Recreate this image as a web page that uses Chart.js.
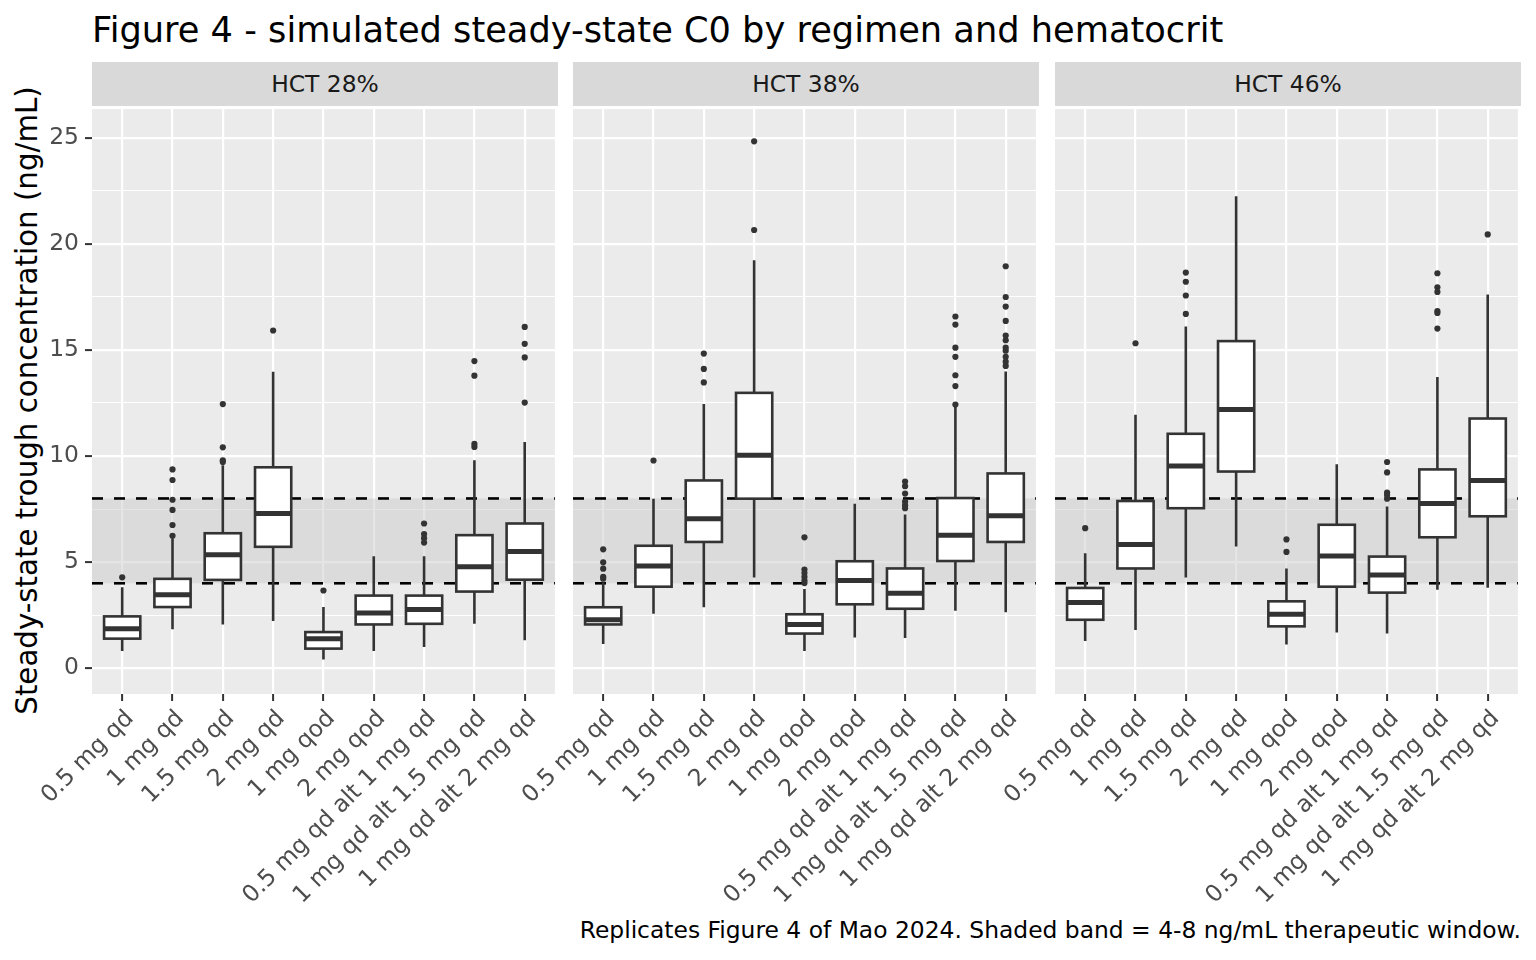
<!DOCTYPE html>
<html>
<head>
<meta charset="utf-8">
<script src="https://cdn.jsdelivr.net/npm/chart.js@4.4.0/dist/chart.umd.min.js"></script>
<style>
  html, body { margin: 0; padding: 0; background: #ffffff; }
  body { position: relative; width: 1536px; height: 960px; overflow: hidden; font-family: "DejaVu Sans", sans-serif; }
  canvas { position: absolute; }
  #title { position: absolute; left: 92px; top: 12px; font-size: 35.2px; line-height: 35px; color: #000; white-space: nowrap; }
  .strip { position: absolute; top: 62px; height: 44px; width: 466px; background: #d9d9d9; color: #1a1a1a;
           font-size: 23.4px; display: flex; align-items: center; justify-content: center; }
  #ytitle { position: absolute; width: 760px; height: 29px; line-height: 29px; font-size: 29.3px; color: #000;
            text-align: center; left: -353.3px; top: 385.5px; transform: rotate(-90deg); white-space: nowrap; }
  #caption { position: absolute; right: 15px; top: 919px; font-size: 23.4px; line-height: 23px; color: #000; white-space: nowrap; }
</style>
</head>
<body>
<div id="title">Figure 4 - simulated steady-state C0 by regimen and hematocrit</div>
<div class="strip" style="left:92px">HCT 28%</div>
<div class="strip" style="left:573px">HCT 38%</div>
<div class="strip" style="left:1055px">HCT 46%</div>
<div id="ytitle">Steady-state trough concentration (ng/mL)</div>
<div id="caption">Replicates Figure 4 of Mao 2024. Shaded band = 4-8 ng/mL therapeutic window.</div>
<canvas id="c1" width="558" height="854" style="left:0px;top:106px"></canvas>
<canvas id="c2" width="566" height="854" style="left:473px;top:106px"></canvas>
<canvas id="c3" width="566" height="854" style="left:955px;top:106px"></canvas>
<script>
// ---------- data ----------
const regimens = ['0.5 mg qd','1 mg qd','1.5 mg qd','2 mg qd','1 mg qod','2 mg qod',
                  '0.5 mg qd alt 1 mg qd','1 mg qd alt 1.5 mg qd','1 mg qd alt 2 mg qd'];
const yTickValues = [0,2.5,5,7.5,10,12.5,15,17.5,20,22.5,25];
const yMajorLabels = ['0','5','10','15','20','25'];
const bandLow = 4, bandHigh = 8;

// HCT 28%
const hct28Low  = [0.81,1.83,2.06,2.22,0.41,0.81,1.00,2.09,1.31];
const hct28Q1   = [1.39,2.88,4.16,5.72,0.92,2.06,2.09,3.61,4.17];
const hct28Med  = [1.86,3.46,5.35,7.29,1.39,2.60,2.77,4.78,5.50];
const hct28Q3   = [2.44,4.21,6.36,9.47,1.70,3.42,3.42,6.27,6.82];
const hct28High = [3.81,6.10,9.57,13.98,2.88,5.27,5.27,9.80,10.66];
const hct28Out  = [[4.28],[9.37,8.87,7.94,7.46,6.75,6.24],[12.45,10.41,9.80,9.72],[15.92],[3.66],[],
                   [6.82,6.32,6.13,5.92],[14.48,13.79,10.57,10.43],[16.09,15.29,14.65,12.52]];

// HCT 38%
const hct38Low  = [1.14,2.56,2.87,4.27,0.81,1.45,1.42,2.71,2.63];
const hct38Q1   = [2.06,3.84,5.95,7.99,1.63,3.01,2.80,5.05,5.95];
const hct38Med  = [2.28,4.82,7.04,10.04,2.06,4.13,3.53,6.26,7.19];
const hct38Q3   = [2.87,5.77,8.85,12.98,2.54,5.04,4.70,8.02,9.18];
const hct38High = [4.05,7.99,12.46,19.23,3.73,7.75,7.24,12.34,13.99];
const hct38Out  = [[5.60,4.99,4.69,4.30,4.22],[9.79],[14.83,14.11,13.47],[24.84,20.66],
                   [6.17,4.65,4.48,4.30,4.13,4.01],[],[8.80,8.58,8.23,7.85,7.68,7.54],
                   [16.58,16.20,15.11,14.68,13.81,13.30,12.43],
                   [18.95,17.50,17.05,16.37,15.68,15.46,15.11,14.97,14.68,14.45,14.25]];

// HCT 46%
const hct46Low  = [1.28,1.80,4.27,5.74,1.11,1.68,1.63,3.70,3.79];
const hct46Q1   = [2.28,4.70,7.54,9.27,1.97,3.84,3.56,6.17,7.16];
const hct46Med  = [3.09,5.83,9.53,12.20,2.54,5.29,4.39,7.76,8.85];
const hct46Q3   = [3.78,7.88,11.05,15.42,3.15,6.76,5.26,9.37,11.77];
const hct46High = [5.42,11.95,16.11,22.25,4.70,9.61,7.62,13.73,17.62];
const hct46Out  = [[6.60],[15.32],[18.65,18.22,17.57,16.70],[],[6.07,5.48],[],
                   [9.72,9.23,8.28,8.16,7.99],[18.62,17.96,17.74,16.84,16.75,16.01],[20.45]];

// ---------- styling ----------
Chart.defaults.font.family = '"DejaVu Sans", sans-serif';
const BOX_W = 0.72;

const panelPlugin = {
  id: 'panelPlugin',
  beforeDraw(chart) {
    const {ctx, chartArea: a} = chart;
    ctx.save();
    ctx.fillStyle = '#ebebeb';
    ctx.fillRect(a.left, a.top, a.right - a.left, a.bottom - a.top);
    ctx.restore();
  },
  beforeDatasetsDraw(chart, args, opts) {
    const {ctx, chartArea: a, scales: {x, y}} = chart;
    ctx.save();
    ctx.beginPath();
    ctx.rect(a.left, a.top, a.right - a.left, a.bottom - a.top);
    ctx.clip();
    // therapeutic band
    const yb1 = y.getPixelForValue(bandHigh), yb0 = y.getPixelForValue(bandLow);
    ctx.fillStyle = 'rgba(204,204,204,0.5)';
    ctx.fillRect(a.left, yb1, a.right - a.left, yb0 - yb1);
    // dashed limits
    ctx.strokeStyle = '#000';
    ctx.lineWidth = 2.6;
    ctx.setLineDash([11, 11]);
    [bandLow, bandHigh].forEach(v => {
      const py = y.getPixelForValue(v);
      ctx.beginPath(); ctx.moveTo(a.left, py); ctx.lineTo(a.right, py); ctx.stroke();
    });
    ctx.setLineDash([]);
    // boxes
    const s = opts.stats;
    const half = (x.getPixelForValue(1 + BOX_W / 2) - x.getPixelForValue(1));
    ctx.strokeStyle = '#333333';
    for (let i = 0; i < s.med.length; i++) {
      const cx = x.getPixelForValue(i + 1);
      const pLow = y.getPixelForValue(s.low[i]), pQ1 = y.getPixelForValue(s.q1[i]);
      const pMed = y.getPixelForValue(s.med[i]), pQ3 = y.getPixelForValue(s.q3[i]);
      const pHigh = y.getPixelForValue(s.high[i]);
      ctx.lineWidth = 2.6;
      ctx.beginPath();
      ctx.moveTo(cx, pQ3); ctx.lineTo(cx, pHigh);
      ctx.moveTo(cx, pQ1); ctx.lineTo(cx, pLow);
      ctx.stroke();
      ctx.fillStyle = '#ffffff';
      ctx.fillRect(cx - half, pQ3, 2 * half, pQ1 - pQ3);
      ctx.strokeRect(cx - half, pQ3, 2 * half, pQ1 - pQ3);
      ctx.lineWidth = 5;
      ctx.beginPath();
      ctx.moveTo(cx - half, pMed); ctx.lineTo(cx + half, pMed);
      ctx.stroke();
    }
    ctx.restore();
  }
};

function makePanel(id, showY, stats, outliers) {
  const pts = [];
  outliers.forEach((arr, i) => arr.forEach(v => pts.push({x: i + 1, y: v})));
  return new Chart(document.getElementById(id), {
    type: 'scatter',
    data: { datasets: [{ data: pts, pointRadius: 3.1, pointHoverRadius: 3.1,
                         pointBackgroundColor: '#333333', pointBorderWidth: 0, borderWidth: 0 }] },
    options: {
      responsive: false, animation: false, events: [],
      layout: { padding: 0 },
      plugins: { legend: { display: false }, tooltip: { enabled: false }, panelPlugin: { stats } },
      scales: {
        x: {
          type: 'linear', min: 0.4, max: 9.6,
          afterBuildTicks: s => { s.ticks = regimens.map((r, i) => ({ value: i + 1 })); },
          afterFit: s => { s.height = 266; s.paddingLeft = 0; s.paddingRight = 0; },
          ticks: { autoSkip: false, minRotation: 45, maxRotation: 45, padding: 4, labelOffset: 8,
                   color: '#4d4d4d', font: { size: 23.4 },
                   callback: (v, i) => regimens[i] },
          grid: { color: '#ffffff', lineWidth: 2.2, drawTicks: true, tickLength: 7,
                  tickColor: '#333333', tickWidth: 2 },
          border: { display: false }
        },
        y: {
          type: 'linear', min: -1.22, max: 26.36,
          afterBuildTicks: s => { s.ticks = yTickValues.map(v => ({ value: v })); },
          afterFit: s => { s.width = showY ? 92 : 100; s.paddingTop = 0; s.paddingBottom = 0; },
          ticks: { display: showY, padding: 6, color: '#4d4d4d', font: { size: 23.4 },
                   callback: (v) => (v % 5 === 0 ? yMajorLabels[v / 5] : '') },
          grid: { color: '#ffffff',
                  lineWidth: c => (c.tick && c.tick.value % 5 === 0 ? 2.2 : 1.1),
                  drawTicks: showY, tickLength: 7, tickWidth: 2,
                  tickColor: c => (c.tick && c.tick.value % 5 === 0 ? '#333333' : 'rgba(0,0,0,0)') },
          border: { display: false }
        }
      }
    },
    plugins: [panelPlugin]
  });
}

makePanel('c1', true,
  { low: hct28Low, q1: hct28Q1, med: hct28Med, q3: hct28Q3, high: hct28High }, hct28Out);
makePanel('c2', false,
  { low: hct38Low, q1: hct38Q1, med: hct38Med, q3: hct38Q3, high: hct38High }, hct38Out);
makePanel('c3', false,
  { low: hct46Low, q1: hct46Q1, med: hct46Med, q3: hct46Q3, high: hct46High }, hct46Out);
</script>
</body>
</html>
